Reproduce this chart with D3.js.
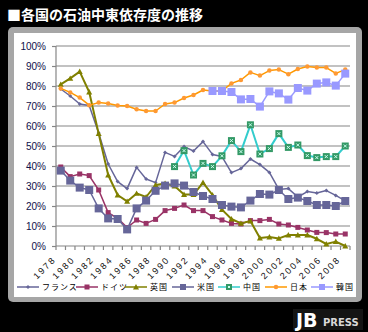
<!DOCTYPE html>
<html lang="ja">
<head>
<meta charset="UTF-8">
<title>各国の石油中東依存度の推移</title>
<script src="https://d3js.org/d3.v7.min.js"></script>
<style>
  body { margin: 0; background: #000; }
  svg { display: block; }
  .ytick text { font-family: "Liberation Sans", Arial, sans-serif; font-size: 10px; fill: #10104a; }
  .xlab { font-family: "Liberation Sans", Arial, sans-serif; font-size: 9px; letter-spacing: 2px; fill: #111; }
  .leg text { font-family: "Noto Sans CJK JP", sans-serif; font-size: 8px; letter-spacing: 1px; fill: #000; }
</style>
</head>
<body>
<div id="chart"></div>
<script>
const years = [1978, 1979, 1980, 1981, 1982, 1983, 1984, 1985, 1986, 1987, 1988, 1989, 1990,
  1991, 1992, 1993, 1994, 1995, 1996, 1997, 1998, 1999, 2000, 2001, 2002, 2003, 2004,
  2005, 2006, 2007, 2008];
const yearLabels = [1978, 1980, 1982, 1984, 1986, 1988, 1990, 1992, 1994, 1996, 1998,
  2000, 2002, 2004, 2006, 2008];
const yTicks = [0, 10, 20, 30, 40, 50, 60, 70, 80, 90, 100];

const france = [78.5, 75, 71, 70.3, 56.5, 41, 32.2, 28.7, 39.3, 33.5, 31.7, 46.8, 44.8, 49.7,
  47.5, 52.2, 45.8, 44.7, 36.7, 38.7, 43.5, 40.7, 36.8, 28.3, 28.7, 24.5, 27.2, 26.5, 27.7, 25.3, 22.6];
const germany = [39.5, 34.7, 36, 35.2, 28, 16.7, 13.8, 9.2, 13, 11.3, 13.3, 17.7, 18.8, 20.5,
  17.7, 17.7, 14.7, 13, 11.3, 11, 12.7, 12.7, 13.3, 11, 10.5, 9.3, 8, 6.8, 6.7, 6, 6];
const uk = [80.8, 83.8, 87.2, 77, 56.2, 35.5, 25.5, 22.3, 26.3, 24.5, 30.5, 31.3, 30, 25.7,
  25.7, 31.7, 25.5, 18.2, 13.5, 11.3, 12.5, 4, 4.5, 3.8, 5.5, 5.5, 5.5, 3.6, 1, 2.2, 0];
const us = [37.7, 32.7, 29.2, 28, 18.8, 13.8, 13.5, 8.3, 18.8, 22.7, 27.6, 30.2, 31.3, 30.2,
  27, 25, 23.5, 20.5, 19.7, 19.3, 22.7, 26, 25.7, 28, 23.5, 24.2, 22.5, 20.5, 20.5, 20, 22.5];
const china = [null, null, null, null, null, null, null, null, null, null, null, null,
  39.7, 47.7, 35.5, 41.3, 39.7, 45.1, 52.7, 47.2, 60.6, 46, 48.7, 56.2, 49.3, 50.5, 45.2,
  44.2, 44.7, 44.7, 50];
const japan = [78.8, 76.8, 74.2, 70.4, 71.7, 71.3, 70.2, 70, 68.4, 67.5, 67.5, 71, 71.7, 74,
  75.5, 78, 77.5, 77.5, 81.3, 83, 86.8, 85.2, 87.7, 88.2, 85.9, 88.5, 89.7, 89.2, 89.2, 86.3, 88.2];
const korea = [null, null, null, null, null, null, null, null, null, null, null, null, null,
  null, null, null, 77.5, 77.5, 77, 73.3, 73.5, 69.7, 77.3, 76.3, 73.2, 79, 77.7, 81.2,
  81.8, 80.2, 86.2];

const seriesNames = ["フランス", "ドイツ", "英国", "米国", "中国", "日本", "韓国"];

// style per series: line colour, marker type, marker fill
const styles = [
  { line: "#666699", mark: "cross", fill: "#666699", size: 4, lw: 1.5 },
  { line: "#993366", mark: "square", fill: "#993366", size: 5, lw: 1.5 },
  { line: "#808000", mark: "triangle", fill: "#808000", size: 6, lw: 2 },
  { line: "#666699", mark: "square", fill: "#666699", size: 8, lw: 1.5 },
  { line: "#33CCCC", mark: "xsquare", fill: "#339966", size: 7, lw: 2 },
  { line: "#FF9900", mark: "circle", fill: "#FF9933", size: 5, lw: 1.5 },
  { line: "#9999FF", mark: "square", fill: "#9999FF", size: 8, lw: 1.5 }
];
const values = [france, germany, uk, us, china, japan, korea];

const W = 368, H = 332;
const svg = d3.select("#chart").append("svg")
  .attr("width", W).attr("height", H);

svg.append("rect").attr("width", W).attr("height", H).attr("fill", "#000");

svg.append("text")
  .attr("x", 7).attr("y", 20)
  .attr("fill", "#fff")
  .style("font-family", "'Noto Sans CJK JP', sans-serif")
  .style("font-size", "14px")
  .style("font-weight", "bold")
  .text("■各国の石油中東依存度の推移");

// panel
svg.append("rect")
  .attr("x", 8).attr("y", 27).attr("width", 354).attr("height", 275)
  .attr("rx", 5).attr("fill", "#a6a6a6");
svg.append("rect")
  .attr("x", 14).attr("y", 33).attr("width", 342).attr("height", 264)
  .attr("fill", "#fff");

const x = d3.scaleBand().domain(years).range([56, 350]);
const y = d3.scaleLinear().domain([0, 100]).range([246, 46]);
const cx = d => x(d) + x.bandwidth() / 2;

// gridlines
svg.append("g").selectAll("line")
  .data(yTicks.filter(d => d > 0))
  .join("line")
  .attr("x1", 56).attr("x2", 350)
  .attr("y1", d => y(d)).attr("y2", d => y(d))
  .attr("stroke", "#868686").attr("stroke-width", 1.2);

// y axis
const yAxis = svg.append("g")
  .attr("class", "ytick")
  .attr("transform", "translate(56,0)")
  .call(d3.axisLeft(y).tickValues(yTicks).tickFormat(d => d + "%").tickSize(4).tickPadding(6));
yAxis.selectAll("line, path").attr("stroke", "#868686").attr("stroke-width", 1.2);
yAxis.select(".domain").attr("d", "M0,46V246");

// x axis: ticks at every category boundary
const xg = svg.append("g");
xg.append("line")
  .attr("x1", 56).attr("x2", 350).attr("y1", 246).attr("y2", 246)
  .attr("stroke", "#868686").attr("stroke-width", 1.2);
xg.selectAll(".xt")
  .data(years.concat([null]))
  .join("line")
  .attr("class", "xt")
  .attr("x1", (d, i) => 56 + i * x.step()).attr("x2", (d, i) => 56 + i * x.step())
  .attr("y1", 246).attr("y2", 250)
  .attr("stroke", "#868686").attr("stroke-width", 1.2);
xg.selectAll(".xlab")
  .data(yearLabels)
  .join("text")
  .attr("class", "xlab")
  .attr("text-anchor", "end")
  .attr("transform", d => `translate(${cx(d) - 4},${260}) rotate(-45)`)
  .text(d => d);

// marker drawing
function marker(g, s) {
  const r = s.size / 2;
  if (s.mark === "square" || s.mark === "xsquare") {
    g.append("rect").attr("x", -r).attr("y", -r).attr("width", s.size).attr("height", s.size)
      .attr("fill", s.fill);
    if (s.mark === "xsquare") {
      g.append("path").attr("d", `M${-r + 2},${-r + 2}L${r - 2},${r - 2}M${r - 2},${-r + 2}L${-r + 2},${r - 2}`)
        .attr("stroke", "#ccffee").attr("stroke-width", 1);
    }
  } else if (s.mark === "triangle") {
    g.append("path").attr("d", `M0,${-r}L${r},${r * 0.8}L${-r},${r * 0.8}Z`).attr("fill", s.fill);
  } else if (s.mark === "circle") {
    g.append("circle").attr("r", r * 0.9).attr("fill", s.fill);
  } else {
    g.append("path").attr("d", `M0,${-r}L${r},0L0,${r}L${-r},0Z`).attr("fill", s.fill);
  }
}

const line = d3.line()
  .defined(d => d.v != null)
  .x(d => cx(d.year))
  .y(d => y(d.v));

values.forEach((vals, k) => {
  const s = styles[k];
  const pts = years.map((yr, i) => ({ year: yr, v: vals[i] }));
  const g = svg.append("g");
  g.append("path").datum(pts)
    .attr("d", line)
    .attr("fill", "none")
    .attr("stroke", s.line)
    .attr("stroke-width", s.lw)
    .attr("stroke-linejoin", "round");
  g.selectAll("g.m")
    .data(pts.filter(d => d.v != null))
    .join("g")
    .attr("class", "m")
    .attr("transform", d => `translate(${cx(d.year)},${y(d.v)})`)
    .each(function () { marker(d3.select(this), s); });
});

// legend
const legX = [17, 76, 125, 172, 218, 265, 311];
const leg = svg.append("g").attr("class", "leg");
seriesNames.forEach((name, k) => {
  const s = styles[k];
  const g = leg.append("g").attr("transform", `translate(${legX[k]},287)`);
  g.append("line").attr("x1", 0).attr("x2", 22).attr("stroke", s.line).attr("stroke-width", 1.5);
  const m = g.append("g").attr("transform", "translate(11,0)");
  marker(m, Object.assign({}, s, { size: Math.min(s.size, 6) }));
  g.append("text").attr("x", 25).attr("y", 3).text(name);
});

// logo
const logo = svg.append("g");
logo.append("rect").attr("x", 293).attr("y", 309).attr("width", 70).attr("height", 21).attr("fill", "#141414");
logo.append("text")
  .attr("x", 296).attr("y", 327)
  .style("font-family", "'DejaVu Sans', sans-serif")
  .style("font-weight", "bold")
  .style("font-size", "19px")
  .attr("fill", "#fff")
  .text("JB");
logo.append("text")
  .attr("x", 323).attr("y", 326)
  .style("font-family", "'DejaVu Sans', sans-serif")
  .style("font-weight", "bold")
  .style("font-size", "10px")
  .attr("fill", "#d8d8d8")
  .text("PRESS");
</script>
</body>
</html>
